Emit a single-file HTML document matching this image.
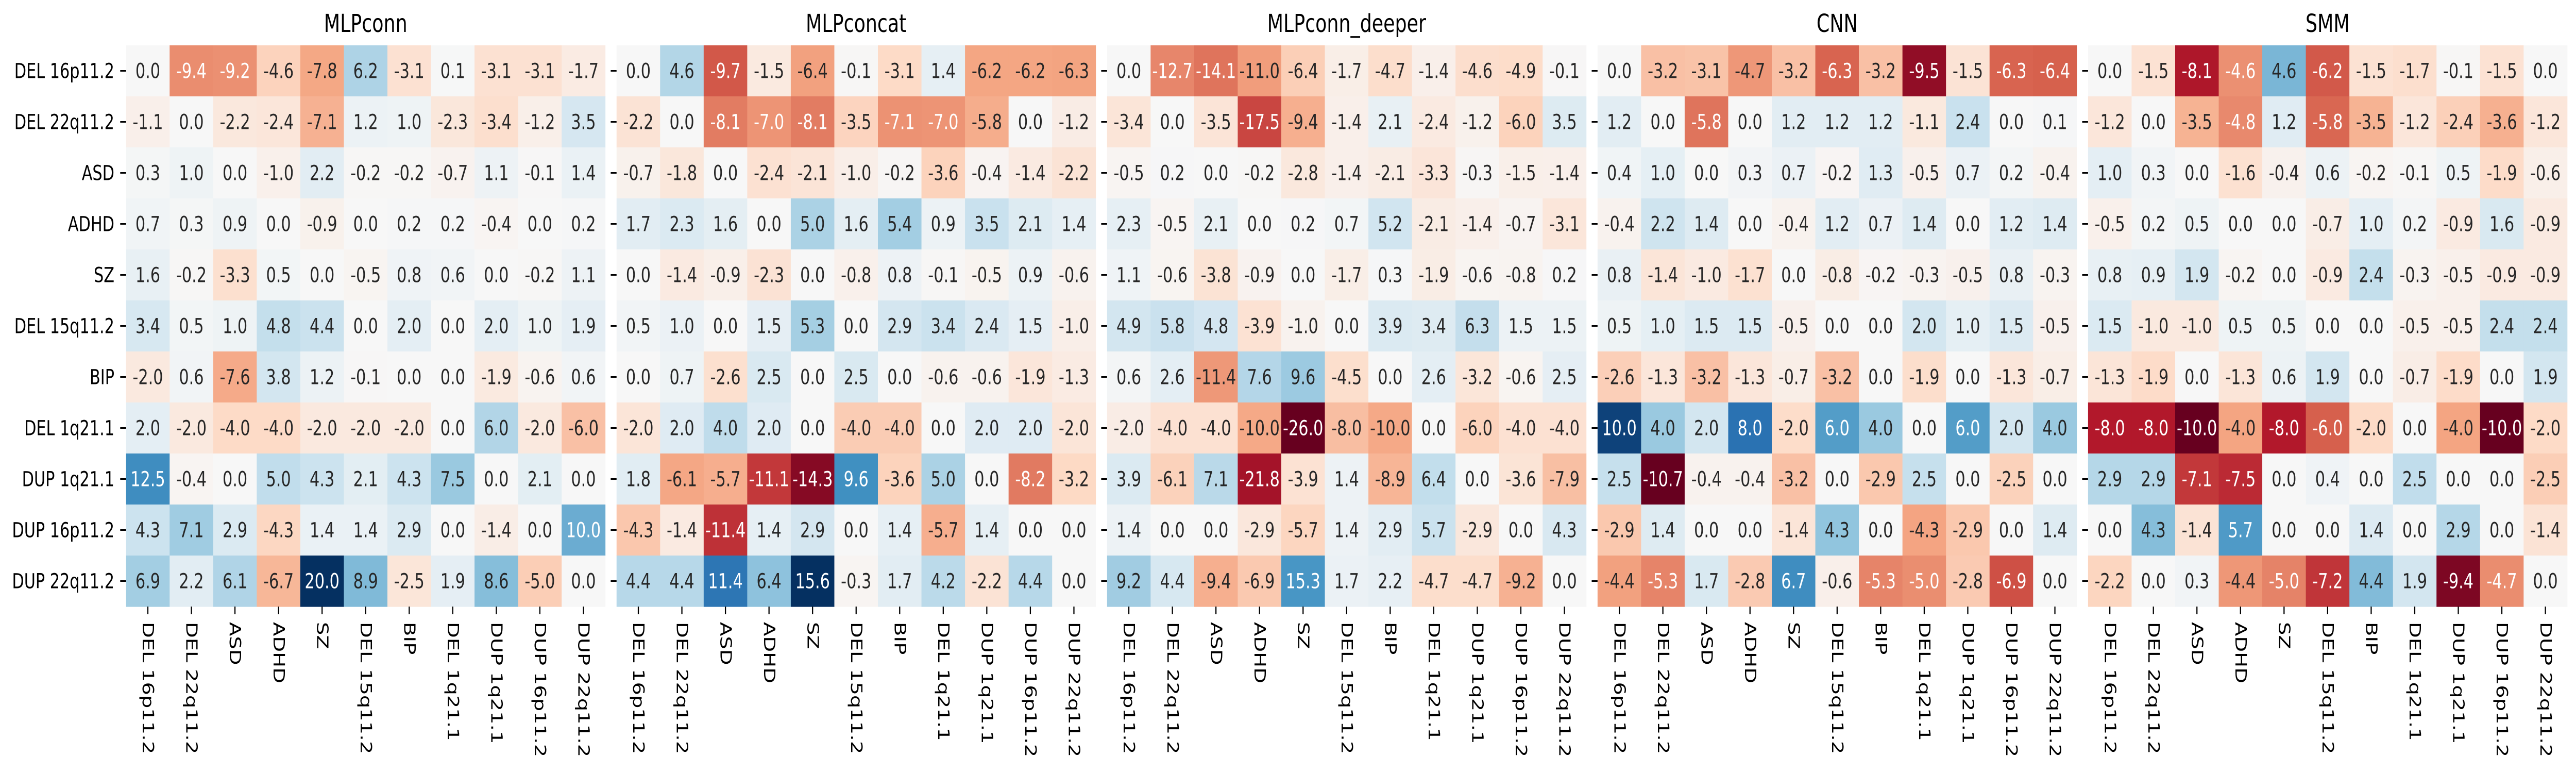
<!DOCTYPE html>
<html><head><meta charset="utf-8"><title>Heatmaps</title>
<style>html,body{margin:0;padding:0;background:#fff;overflow:hidden;width:100vw;height:100vh;}svg{display:block;width:100vw;height:100vh;}text{font-family:"DejaVu Sans","Liberation Sans",sans-serif;}</style>
</head><body>
<svg id="chart" viewBox="0 0 6600 1500" preserveAspectRatio="none" xmlns="http://www.w3.org/2000/svg"></svg>
<script>
const categories = ["DEL 16p11.2","DEL 22q11.2","ASD","ADHD","SZ","DEL 15q11.2","BIP","DEL 1q21.1","DUP 1q21.1","DUP 16p11.2","DUP 22q11.2"];
const panelTitles = ["MLPconn","MLPconcat","MLPconn_deeper","CNN","SMM"];
const valuesMLPconn = [
[0.0,-9.4,-9.2,-4.6,-7.8,6.2,-3.1,0.1,-3.1,-3.1,-1.7],
[-1.1,0.0,-2.2,-2.4,-7.1,1.2,1.0,-2.3,-3.4,-1.2,3.5],
[0.3,1.0,0.0,-1.0,2.2,-0.2,-0.2,-0.7,1.1,-0.1,1.4],
[0.7,0.3,0.9,0.0,-0.9,-0.0,0.2,0.2,-0.4,-0.0,0.2],
[1.6,-0.2,-3.3,0.5,0.0,-0.5,0.8,0.6,0.0,-0.2,1.1],
[3.4,0.5,1.0,4.8,4.4,0.0,2.0,-0.0,2.0,1.0,1.9],
[-2.0,0.6,-7.6,3.8,1.2,-0.1,0.0,0.0,-1.9,-0.6,0.6],
[2.0,-2.0,-4.0,-4.0,-2.0,-2.0,-2.0,0.0,6.0,-2.0,-6.0],
[12.5,-0.4,0.0,5.0,4.3,2.1,4.3,7.5,0.0,2.1,0.0],
[4.3,7.1,2.9,-4.3,1.4,1.4,2.9,0.0,-1.4,0.0,10.0],
[6.9,2.2,6.1,-6.7,20.0,8.9,-2.5,1.9,8.6,-5.0,0.0]];
const valuesMLPconcat = [
[0.0,4.6,-9.7,-1.5,-6.4,-0.1,-3.1,1.4,-6.2,-6.2,-6.3],
[-2.2,0.0,-8.1,-7.0,-8.1,-3.5,-7.1,-7.0,-5.8,0.0,-1.2],
[-0.7,-1.8,0.0,-2.4,-2.1,-1.0,-0.2,-3.6,-0.4,-1.4,-2.2],
[1.7,2.3,1.6,0.0,5.0,1.6,5.4,0.9,3.5,2.1,1.4],
[0.0,-1.4,-0.9,-2.3,0.0,-0.8,0.8,-0.1,-0.5,0.9,-0.6],
[0.5,1.0,-0.0,1.5,5.3,0.0,2.9,3.4,2.4,1.5,-1.0],
[0.0,0.7,-2.6,2.5,0.0,2.5,0.0,-0.6,-0.6,-1.9,-1.3],
[-2.0,2.0,4.0,2.0,0.0,-4.0,-4.0,0.0,2.0,2.0,-2.0],
[1.8,-6.1,-5.7,-11.1,-14.3,9.6,-3.6,5.0,0.0,-8.2,-3.2],
[-4.3,-1.4,-11.4,1.4,2.9,0.0,1.4,-5.7,1.4,0.0,-0.0],
[4.4,4.4,11.4,6.4,15.6,-0.3,1.7,4.2,-2.2,4.4,0.0]];
const valuesMLPconnDeeper = [
[0.0,-12.7,-14.1,-11.0,-6.4,-1.7,-4.7,-1.4,-4.6,-4.9,-0.1],
[-3.4,0.0,-3.5,-17.5,-9.4,-1.4,2.1,-2.4,-1.2,-6.0,3.5],
[-0.5,0.2,0.0,-0.2,-2.8,-1.4,-2.1,-3.3,-0.3,-1.5,-1.4],
[2.3,-0.5,2.1,0.0,0.2,0.7,5.2,-2.1,-1.4,-0.7,-3.1],
[1.1,-0.6,-3.8,-0.9,0.0,-1.7,0.3,-1.9,-0.6,-0.8,0.2],
[4.9,5.8,4.8,-3.9,-1.0,0.0,3.9,3.4,6.3,1.5,1.5],
[0.6,2.6,-11.4,7.6,9.6,-4.5,0.0,2.6,-3.2,-0.6,2.5],
[-2.0,-4.0,-4.0,-10.0,-26.0,-8.0,-10.0,0.0,-6.0,-4.0,-4.0],
[3.9,-6.1,7.1,-21.8,-3.9,1.4,-8.9,6.4,0.0,-3.6,-7.9],
[1.4,0.0,0.0,-2.9,-5.7,1.4,2.9,5.7,-2.9,0.0,4.3],
[9.2,4.4,-9.4,-6.9,15.3,1.7,2.2,-4.7,-4.7,-9.2,0.0]];
const valuesCNN = [
[0.0,-3.2,-3.1,-4.7,-3.2,-6.3,-3.2,-9.5,-1.5,-6.3,-6.4],
[1.2,0.0,-5.8,0.0,1.2,1.2,1.2,-1.1,2.4,0.0,0.1],
[0.4,1.0,0.0,0.3,0.7,-0.2,1.3,-0.5,0.7,0.2,-0.4],
[-0.4,2.2,1.4,0.0,-0.4,1.2,0.7,1.4,-0.0,1.2,1.4],
[0.8,-1.4,-1.0,-1.7,0.0,-0.8,-0.2,-0.3,-0.5,0.8,-0.3],
[0.5,1.0,1.5,1.5,-0.5,0.0,0.0,2.0,1.0,1.5,-0.5],
[-2.6,-1.3,-3.2,-1.3,-0.7,-3.2,0.0,-1.9,-0.0,-1.3,-0.7],
[10.0,4.0,2.0,8.0,-2.0,6.0,4.0,0.0,6.0,2.0,4.0],
[2.5,-10.7,-0.4,-0.4,-3.2,0.0,-2.9,2.5,0.0,-2.5,0.0],
[-2.9,1.4,0.0,-0.0,-1.4,4.3,-0.0,-4.3,-2.9,0.0,1.4],
[-4.4,-5.3,1.7,-2.8,6.7,-0.6,-5.3,-5.0,-2.8,-6.9,0.0]];
const valuesSMM = [
[0.0,-1.5,-8.1,-4.6,4.6,-6.2,-1.5,-1.7,-0.1,-1.5,0.0],
[-1.2,0.0,-3.5,-4.8,1.2,-5.8,-3.5,-1.2,-2.4,-3.6,-1.2],
[1.0,0.3,0.0,-1.6,-0.4,0.6,-0.2,-0.1,0.5,-1.9,-0.6],
[-0.5,0.2,0.5,0.0,0.0,-0.7,1.0,0.2,-0.9,1.6,-0.9],
[0.8,0.9,1.9,-0.2,0.0,-0.9,2.4,-0.3,-0.5,-0.9,-0.9],
[1.5,-1.0,-1.0,0.5,0.5,0.0,0.0,-0.5,-0.5,2.4,2.4],
[-1.3,-1.9,-0.0,-1.3,0.6,1.9,0.0,-0.7,-1.9,-0.0,1.9],
[-8.0,-8.0,-10.0,-4.0,-8.0,-6.0,-2.0,0.0,-4.0,-10.0,-2.0],
[2.9,2.9,-7.1,-7.5,0.0,0.4,0.0,2.5,0.0,0.0,-2.5],
[0.0,4.3,-1.4,5.7,0.0,0.0,1.4,0.0,2.9,0.0,-1.4],
[-2.2,0.0,0.3,-4.4,-5.0,-7.2,4.4,1.9,-9.4,-4.7,0.0]];
const panelValues = [valuesMLPconn, valuesMLPconcat, valuesMLPconnDeeper, valuesCNN, valuesSMM];

const NS = "http://www.w3.org/2000/svg";
const svg = document.getElementById('chart');
const stops = ["#67001f","#b2182b","#d6604d","#f4a582","#fddbc7","#f7f7f7","#d1e5f0","#92c5de","#4393c3","#2166ac","#053061"].map(h=>[parseInt(h.slice(1,3),16),parseInt(h.slice(3,5),16),parseInt(h.slice(5,7),16)]);
function cmap(t){t=Math.max(0,Math.min(1,t));const p=t*10;const i=Math.min(9,Math.floor(p));const f=p-i;const a=stops[i],b=stops[i+1];return [0,1,2].map(k=>Math.round(a[k]+(b[k]-a[k])*f));}
function lum(c){const l=c.map(v=>{v/=255;return v<=0.03928?v/12.92:Math.pow((v+0.055)/1.055,2.4);});return 0.2126*l[0]+0.7152*l[1]+0.0722*l[2];}
const TOP=88, CW=111.6, RH=99, N=11, PSTEP=1256.7, PLEFT=323;
function xPos(p,c){return PLEFT+p*PSTEP+c*CW;}
function yPos(r){return TOP+r*RH;}
function mk(tag,attrs){const e=document.createElementNS(NS,tag);for(const k in attrs)e.setAttribute(k,attrs[k]);return e;}

panelValues.forEach((vals,p)=>{
  const g=mk('g',{});
  
  
  svg.appendChild(g);
  let vmax=0; vals.forEach(r=>r.forEach(v=>{vmax=Math.max(vmax,Math.abs(v));}));
  const title=mk('text',{x:xPos(p,0)+N*CW/2,y:62,'font-size':48,'text-anchor':'middle',fill:'#000'});
  
  
  title.textContent=panelTitles[p]; g.appendChild(title);
  vals.forEach((row,r)=>{row.forEach((v,c)=>{
    const col=cmap(0.5+v/(2*vmax));
    const rect=mk('rect',{x:xPos(p,c),y:yPos(r),width:CW+0.6,height:RH+0.6,fill:'rgb('+col.join(',')+')'});
    
    
    g.appendChild(rect);
    const t=mk('text',{x:xPos(p,c)+CW/2,y:yPos(r)+RH/2+14,'font-size':40,'text-anchor':'middle',fill:lum(col)<0.408?'#ffffff':'#262626'});
    
    
    t.textContent=v.toFixed(1); g.appendChild(t);
  });});
  for(let i=0;i<N;i++){
    const ty=mk('line',{x1:xPos(p,0)-15,x2:xPos(p,0),y1:yPos(i)+RH/2,y2:yPos(i)+RH/2,stroke:'#000','stroke-width':3});
    
    
    g.appendChild(ty);
    const tx=mk('line',{x1:xPos(p,i)+CW/2,x2:xPos(p,i)+CW/2,y1:TOP+N*RH,y2:TOP+N*RH+15,stroke:'#000','stroke-width':3});
    
    
    g.appendChild(tx);
    const lx=xPos(p,i)+CW/2, ly=TOP+N*RH+30;
    const xl=mk('text',{x:lx,y:ly,'font-size':40,'text-anchor':'start','dominant-baseline':'central',fill:'#000',transform:'rotate(90 '+lx+' '+ly+')'});
    
    
    xl.textContent=categories[i]; g.appendChild(xl);
    if(p===0){
      const yl=mk('text',{x:xPos(0,0)-30,y:yPos(i)+RH/2+14,'font-size':40,'text-anchor':'end',fill:'#000'});
      
      
      yl.textContent=categories[i]; g.appendChild(yl);
    }
  }
});
</script>
</body></html>
